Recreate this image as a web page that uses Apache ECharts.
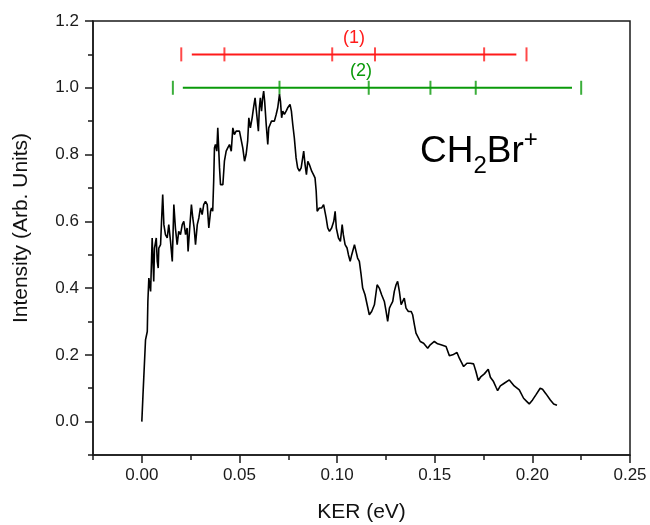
<!DOCTYPE html>
<html>
<head>
<meta charset="utf-8">
<script src="https://cdn.jsdelivr.net/npm/echarts@6/dist/echarts.min.js"></script>
<style>html,body{margin:0;padding:0;background:#fff}#c{width:650px;height:525px}</style>
</head>
<body>
<div id="c"></div>
<script>
// KER spectrum (CH2Br+)
const kerValues = [0.0000,0.0006,0.0019,0.0028,0.0031,0.0036,0.0045,0.0053,0.0061,0.0065,0.0074,0.0079,0.0084,0.0087,0.0096,0.0101,0.0107,0.0113,0.0121,0.0130,0.0138,0.0147,0.0156,0.0164,0.0172,0.0181,0.0189,0.0198,0.0207,0.0215,0.0224,0.0232,0.0237,0.0244,0.0254,0.0261,0.0268,0.0275,0.0284,0.0292,0.0300,0.0309,0.0317,0.0326,0.0335,0.0343,0.0352,0.0357,0.0363,0.0368,0.0372,0.0377,0.0384,0.0389,0.0398,0.0403,0.0415,0.0423,0.0432,0.0440,0.0449,0.0458,0.0466,0.0474,0.0483,0.0491,0.0500,0.0509,0.0517,0.0526,0.0534,0.0542,0.0548,0.0556,0.0565,0.0572,0.0580,0.0589,0.0597,0.0602,0.0607,0.0613,0.0619,0.0624,0.0629,0.0637,0.0645,0.0650,0.0657,0.0664,0.0670,0.0679,0.0688,0.0696,0.0705,0.0710,0.0716,0.0722,0.0730,0.0739,0.0747,0.0759,0.0766,0.0773,0.0781,0.0790,0.0798,0.0807,0.0816,0.0829,0.0836,0.0843,0.0850,0.0858,0.0870,0.0879,0.0887,0.0893,0.0898,0.0909,0.0921,0.0931,0.0944,0.0952,0.0961,0.0972,0.0983,0.0990,0.0996,0.1007,0.1017,0.1026,0.1032,0.1041,0.1051,0.1058,0.1067,0.1075,0.1089,0.1097,0.1105,0.1114,0.1123,0.1131,0.1143,0.1154,0.1165,0.1177,0.1191,0.1205,0.1216,0.1228,0.1242,0.1251,0.1259,0.1268,0.1276,0.1285,0.1293,0.1302,0.1310,0.1319,0.1328,0.1336,0.1344,0.1353,0.1365,0.1379,0.1387,0.1396,0.1404,0.1426,0.1443,0.1464,0.1477,0.1498,0.1515,0.1532,0.1558,0.1575,0.1592,0.1614,0.1626,0.1648,0.1665,0.1682,0.1699,0.1711,0.1723,0.1737,0.1754,0.1774,0.1785,0.1801,0.1814,0.1822,0.1836,0.1856,0.1882,0.1907,0.1933,0.1955,0.1972,0.1984,0.2001,0.2018,0.2040,0.2052,0.2070,0.2092,0.2109,0.2126];
const intensityValues = [0.00,0.08,0.245,0.27,0.36,0.43,0.39,0.55,0.42,0.52,0.55,0.48,0.46,0.52,0.53,0.60,0.68,0.59,0.56,0.55,0.59,0.54,0.48,0.65,0.58,0.53,0.57,0.56,0.59,0.60,0.56,0.58,0.51,0.57,0.65,0.61,0.58,0.53,0.59,0.61,0.64,0.62,0.65,0.66,0.65,0.58,0.63,0.64,0.63,0.72,0.82,0.83,0.81,0.88,0.76,0.71,0.71,0.78,0.81,0.82,0.83,0.81,0.88,0.86,0.87,0.87,0.87,0.87,0.82,0.78,0.80,0.84,0.91,0.88,0.91,0.94,0.97,0.97,0.87,0.94,0.97,0.93,0.97,0.99,0.96,0.89,0.83,0.88,0.89,0.90,0.90,0.90,0.92,0.94,0.98,0.96,0.91,0.93,0.92,0.93,0.94,0.95,0.93,0.89,0.85,0.79,0.76,0.75,0.76,0.81,0.77,0.74,0.78,0.77,0.75,0.74,0.73,0.69,0.63,0.64,0.64,0.65,0.61,0.58,0.57,0.58,0.60,0.63,0.58,0.55,0.54,0.59,0.56,0.53,0.52,0.50,0.48,0.50,0.53,0.51,0.49,0.48,0.44,0.40,0.38,0.35,0.32,0.33,0.35,0.41,0.40,0.38,0.36,0.33,0.30,0.34,0.35,0.36,0.39,0.41,0.42,0.39,0.35,0.36,0.37,0.34,0.33,0.33,0.32,0.29,0.265,0.24,0.235,0.22,0.23,0.24,0.233,0.23,0.225,0.197,0.20,0.207,0.19,0.165,0.175,0.175,0.173,0.15,0.123,0.135,0.143,0.157,0.133,0.12,0.103,0.093,0.107,0.115,0.125,0.107,0.095,0.07,0.06,0.053,0.065,0.08,0.10,0.097,0.083,0.065,0.053,0.049];

// Energy level markers
const level1Label = '(1)';
const level1Y = 1.1;
const level1Caps = [0.0202, 0.197];
const level1Span = [0.0256, 0.1918];
const level1Ticks = [0.0423, 0.0975, 0.1194, 0.1753];

const level2Label = '(2)';
const level2Y = 1.0;
const level2Caps = [0.0159, 0.225];
const level2Span = [0.021, 0.2203];
const level2Ticks = [0.0705, 0.1162, 0.1478, 0.171];

// Axis ticks
const xMajorTicks = [0, 0.05, 0.10, 0.15, 0.20, 0.25];
const xMinorTicks = [-0.025, 0.025, 0.075, 0.125, 0.175, 0.225];
const yMajorTicks = [0.0, 0.2, 0.4, 0.6, 0.8, 1.0, 1.2];
const yMinorTicks = [-0.1, 0.1, 0.3, 0.5, 0.7, 0.9, 1.1];

const FONT = 'Liberation Sans, Arial, sans-serif';
const RED = '#ff1a1a';
const GREEN = '#0a9a0a';
const AX = '#1a1a1a';

const chart = echarts.init(document.getElementById('c'), null, {renderer: 'canvas'});

const curve = kerValues.map((x, i) => [x, intensityValues[i]]);

function levelSeries(y, caps, span, ticks, color) {
  return [
    {
      type: 'line', xAxisIndex: 0, yAxisIndex: 0,
      data: span.map(x => [x, y]),
      symbol: 'none', silent: true, animation: false,
      lineStyle: {color: color, width: 2}
    },
    {
      type: 'scatter', xAxisIndex: 0, yAxisIndex: 0,
      data: caps.concat(ticks).map(x => [x, y]),
      symbol: 'rect', symbolSize: [2, 14], silent: true, animation: false,
      itemStyle: {color: color}
    }
  ];
}

const xBase = {
  type: 'value', min: -0.025, max: 0.25, position: 'bottom',
  splitLine: {show: false}
};
const yBase = {
  type: 'value', min: -0.1, max: 1.2, position: 'left',
  splitLine: {show: false}
};

chart.setOption({
  animation: false,
  backgroundColor: '#fff',
  grid: {left: 93, right: 20, top: 21, bottom: 70, show: true, borderColor: AX, borderWidth: 1.5, containLabel: false, outerBoundsMode: 'none'},
  xAxis: [
    Object.assign({}, xBase, {
      axisLine: {show: true, onZero: false, lineStyle: {color: AX, width: 1.5}},
      axisTick: {show: true, inside: false, length: 8, lineStyle: {color: AX, width: 1.5}, customValues: xMajorTicks},
      axisLabel: {show: true, customValues: xMajorTicks, color: '#1a1a1a', fontFamily: FONT, fontSize: 17, margin: 12,
        formatter: v => v.toFixed(2)},
      name: 'KER (eV)', nameLocation: 'middle', nameGap: 47,
      nameTextStyle: {color: '#111', fontFamily: FONT, fontSize: 21}
    }),
    Object.assign({}, xBase, {
      axisLine: {show: false, onZero: false},
      axisTick: {show: true, inside: false, length: 5, lineStyle: {color: AX, width: 1.5}, customValues: xMinorTicks},
      axisLabel: {show: false}
    })
  ],
  yAxis: [
    Object.assign({}, yBase, {
      axisLine: {show: true, onZero: false, lineStyle: {color: AX, width: 1.5}},
      axisTick: {show: true, inside: false, length: 8, lineStyle: {color: AX, width: 1.5}, customValues: yMajorTicks},
      axisLabel: {show: true, customValues: yMajorTicks, color: '#1a1a1a', fontFamily: FONT, fontSize: 17, margin: 14,
        formatter: v => v.toFixed(1)}
    }),
    Object.assign({}, yBase, {
      axisLine: {show: false, onZero: false},
      axisTick: {show: true, inside: false, length: 5, lineStyle: {color: AX, width: 1.5}, customValues: yMinorTicks},
      axisLabel: {show: false}
    })
  ],
  series: [
    {
      type: 'line', xAxisIndex: 0, yAxisIndex: 0, data: curve,
      symbol: 'none', silent: true,
      lineStyle: {color: '#000', width: 1.6}
    }
  ].concat(levelSeries(level1Y, level1Caps, level1Span, level1Ticks, RED))
   .concat(levelSeries(level2Y, level2Caps, level2Span, level2Ticks, GREEN)),
  graphic: [
    {type: 'text', x: 354, y: 38, silent: true,
      style: {text: level1Label, fill: RED, font: '18px ' + FONT, align: 'center', verticalAlign: 'middle'}},
    {type: 'text', x: 361, y: 71, silent: true,
      style: {text: level2Label, fill: GREEN, font: '18px ' + FONT, align: 'center', verticalAlign: 'middle'}},
    {type: 'text', x: 21, y: 228, rotation: Math.PI / 2, silent: true,
      style: {text: 'Intensity (Arb. Units)', fill: '#111', font: '21px ' + FONT, align: 'center', verticalAlign: 'middle'}},
    {type: 'text', x: 420, y: 152, silent: true,
      style: {
        text: '{a|CH}{b|2}{a|Br}{c|+}', align: 'left', verticalAlign: 'middle',
        rich: {
          a: {fontSize: 37, fontFamily: FONT, fill: '#000', color: '#000'},
          b: {fontSize: 24, fontFamily: FONT, fill: '#000', color: '#000', padding: [28, 0, 0, 0]},
          c: {fontSize: 24, fontFamily: FONT, fill: '#000', color: '#000', padding: [0, 0, 24, 0]}
        }
      }}
  ]
});
</script>
</body>
</html>
